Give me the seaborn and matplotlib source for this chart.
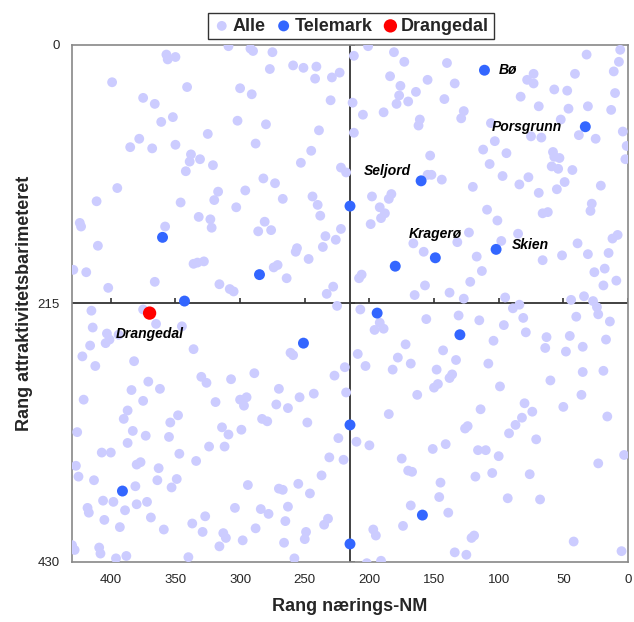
import matplotlib
matplotlib.use('Agg')
import matplotlib.pyplot as plt
import pandas as pd
import seaborn as sns

# rank (naerings-NM, attraktivitetsbarometer) for all municipalities, by quadrant
alle_nw = [
    (309, 1), (292, 3), (290, 5), (275, 6), (357, 8), (356, 12), (350, 10), (277, 20), (259, 17),
    (251, 19), (241, 18), (242, 28), (229, 27), (223, 23), (399, 31), (341, 35), (300, 36), (291, 41),
    (375, 44), (366, 49), (230, 46), (352, 60), (361, 64), (302, 63), (280, 66), (239, 71), (325, 74),
    (378, 78), (385, 85), (368, 86), (350, 83), (288, 82), (245, 88), (338, 91), (339, 97), (331, 95),
    (321, 100), (342, 105), (253, 98), (222, 102), (218, 106), (282, 111), (273, 115), (395, 119),
    (317, 122), (296, 121), (411, 130), (346, 131), (320, 129), (267, 128), (244, 126), (240, 133),
    (303, 135), (238, 142), (332, 143), (323, 145), (322, 152), (424, 148), (423, 151), (358, 151),
    (281, 147), (286, 155), (276, 154), (222, 153), (234, 159), (226, 162), (236, 168), (410, 167),
    (256, 169), (257, 172), (247, 178), (336, 182), (333, 181), (328, 180), (274, 185), (271, 183),
    (429, 187), (419, 189), (264, 194), (366, 197), (316, 199), (308, 203), (305, 205), (402, 202),
    (228, 201), (233, 207), (225, 217),
]
alle_ne = [
    (201, 1), (212, 9), (181, 6), (173, 14), (140, 15), (184, 26), (155, 29), (176, 34), (177, 42),
    (164, 39), (170, 47), (179, 49), (142, 45), (134, 32), (213, 48), (189, 56), (205, 58), (161, 62),
    (162, 67), (127, 55), (129, 61), (212, 73), (32, 8), (6, 4), (7, 14), (11, 22), (41, 24), (78, 29),
    (73, 24), (73, 32), (57, 37), (47, 38), (10, 40), (83, 43), (69, 51), (46, 53), (31, 51), (13, 54),
    (52, 62), (106, 65), (75, 76), (67, 77), (38, 75), (25, 78), (4, 72), (1, 84), (2, 95), (103, 80),
    (112, 87), (94, 90), (107, 99), (58, 89), (57, 93), (53, 94), (59, 101), (54, 103), (43, 104),
    (97, 109), (77, 110), (84, 116), (120, 118), (69, 123), (55, 120), (49, 114), (21, 117), (153, 92),
    (155, 108), (152, 108), (144, 112), (109, 137), (101, 146), (66, 140), (62, 139), (28, 132),
    (29, 138), (85, 157), (98, 163), (117, 176), (123, 156), (132, 164), (166, 165), (158, 172),
    (198, 126), (183, 124), (185, 128), (192, 135), (188, 140), (191, 144), (199, 149), (206, 191),
    (208, 194), (165, 208), (157, 200), (138, 206), (127, 211), (122, 197), (113, 188), (95, 210),
    (89, 219), (84, 216), (66, 179), (51, 175), (39, 165), (31, 174), (15, 173), (12, 161), (8, 158),
    (26, 189), (18, 186), (19, 200), (9, 196), (44, 212), (34, 209), (27, 213), (24, 218),
]
alle_sw = [
    (415, 221), (375, 220), (414, 235), (403, 240), (404, 248), (401, 245), (394, 241), (365, 232),
    (345, 234), (416, 250), (422, 259), (412, 267), (382, 263), (336, 253), (261, 256), (259, 258),
    (289, 273), (307, 278), (330, 276), (326, 281), (371, 280), (362, 286), (384, 287), (421, 295),
    (375, 296), (387, 304), (390, 311), (319, 297), (300, 295), (295, 293), (297, 300), (272, 299),
    (263, 302), (270, 286), (254, 293), (243, 290), (227, 275), (219, 268), (218, 289), (354, 314),
    (348, 308), (314, 318), (309, 324), (299, 320), (283, 311), (279, 313), (248, 314), (426, 322),
    (383, 321), (373, 325), (355, 326), (387, 331), (224, 327), (324, 334), (312, 334), (407, 339),
    (400, 339), (347, 340), (334, 346), (427, 350), (425, 359), (413, 362), (380, 349), (377, 347),
    (363, 352), (364, 362), (349, 361), (353, 368), (381, 367), (294, 366), (270, 369), (267, 370),
    (255, 365), (246, 373), (237, 358), (231, 343), (220, 345), (406, 379), (398, 380), (380, 382),
    (372, 380), (389, 387), (418, 385), (417, 389), (405, 395), (369, 393), (393, 401), (359, 403),
    (337, 398), (327, 392), (329, 405), (313, 406), (311, 410), (316, 417), (304, 385), (284, 386),
    (278, 390), (263, 384), (265, 396), (288, 402), (298, 412), (266, 414), (249, 405), (250, 411),
    (235, 399), (232, 394), (258, 427), (430, 416), (428, 420), (409, 418), (408, 423), (396, 427),
    (388, 425), (340, 426),
]
alle_se = [
    (207, 220), (156, 228), (131, 225), (115, 229), (81, 227), (40, 226), (23, 224), (14, 230),
    (192, 231), (196, 237), (189, 236), (96, 233), (79, 239), (63, 243), (45, 242), (104, 246),
    (64, 252), (48, 255), (35, 251), (17, 245), (172, 249), (143, 254), (133, 262), (108, 265),
    (209, 257), (203, 267), (178, 260), (168, 265), (182, 270), (148, 270), (35, 272), (19, 271),
    (60, 279), (136, 274), (138, 277), (147, 282), (150, 285), (99, 284), (163, 291), (36, 291),
    (50, 301), (80, 298), (74, 305), (82, 310), (87, 316), (92, 323), (114, 303), (185, 307),
    (124, 317), (126, 319), (71, 328), (16, 309), (210, 330), (200, 333), (151, 336), (141, 332),
    (116, 337), (110, 337), (100, 342), (175, 344), (170, 354), (167, 355), (118, 359), (105, 356),
    (76, 357), (23, 348), (3, 341), (145, 364), (146, 376), (93, 377), (68, 378), (168, 383),
    (139, 389), (174, 400), (197, 403), (195, 408), (121, 410), (119, 408), (42, 413), (134, 422),
    (125, 424), (5, 421), (202, 431), (191, 429),
]

telemark_names = ['Bø', 'Porsgrunn', 'Seljord', '', 'Kragerø', '', 'Skien', '', '', '', '',
                  '', '', '', '', '', '']
telemark_x = [111, 33, 160, 215, 149, 180, 102, 360, 285, 343, 251, 391, 194, 130, 215, 159, 215]
telemark_y = [21, 68, 113, 134, 177, 184, 170, 160, 191, 213, 248, 371, 223, 241, 316, 391, 415]

drangedal_x = [370]
drangedal_y = [223]

x_ticks = [400, 350, 300, 250, 200, 150, 100, 50, 0]
y_ticks = [0, 215, 430]
midt = 215

sns.set_style('white')
plt.rcParams['font.family'] = ['Liberation Sans', 'DejaVu Sans']

alle = pd.DataFrame(alle_nw + alle_ne + alle_sw + alle_se, columns=['x', 'y'])
tele = pd.DataFrame({'x': telemark_x, 'y': telemark_y, 'navn': telemark_names})
drang = pd.DataFrame({'x': drangedal_x, 'y': drangedal_y})

fig = plt.figure(figsize=(6.34, 6.22), dpi=100)
ax = fig.add_axes([0.1136, 0.0965, 0.8769, 0.8312])

# crosshair "axes" at the median rank
ax.axhline(midt, color='#333333', lw=1.3, zorder=1)
ax.axvline(midt, color='#333333', lw=1.3, zorder=1)
ax.vlines(x_ticks, midt, midt - 4.2, color='#333333', lw=1.2, zorder=1)
ax.hlines(y_ticks, midt, midt - 3.9, color='#333333', lw=1.2, zorder=1)

sns.scatterplot(data=alle, x='x', y='y', color='#CCCCFF', s=50, edgecolor='none',
                ax=ax, label='Alle', zorder=3)
sns.scatterplot(data=tele, x='x', y='y', color='#3366FF', s=62, edgecolor='none',
                ax=ax, label='Telemark', zorder=4)
sns.scatterplot(data=drang, x='x', y='y', color='#FF0000', s=92, edgecolor='none',
                ax=ax, label='Drangedal', zorder=5)

lab_style = dict(fontsize=10, fontweight='bold', fontstyle='italic', color='black',
                 textcoords='offset points', va='center', zorder=6)
offsets = {
    'Bø': ((10, 0), 'left'),
    'Porsgrunn': ((-17, 0), 'right'),
    'Seljord': ((-7, 7), 'right'),
    'Kragerø': ((0, 17), 'center'),
    'Skien': ((11, 3), 'left'),
}
for _, r in tele.iterrows():
    if r['navn']:
        off, ha = offsets[r['navn']]
        ax.annotate(r['navn'], (r['x'], r['y']), xytext=off, ha=ha, **lab_style)
ax.annotate('Drangedal', (drangedal_x[0], drangedal_y[0]), xytext=(0, -15), ha='center', **lab_style)

ax.set_xlim(430, 0)
ax.set_ylim(430, 0)
ax.set_xticks(x_ticks)
ax.set_yticks(y_ticks)
ax.tick_params(length=0, labelsize=9.5, pad=9)
for s in ax.spines.values():
    s.set_color('#888888')
    s.set_linewidth(1.2)

ax.set_xlabel('Rang nærings-NM', fontsize=13, fontweight='bold', labelpad=8)
ax.set_ylabel('Rang attraktivitetsbarimeteret', fontsize=13, fontweight='bold', labelpad=3)

handles, labels = ax.get_legend_handles_labels()
ax.get_legend().remove()
leg = fig.legend(handles, labels, loc='center', bbox_to_anchor=(0.5536, 0.958), ncol=3,
                 frameon=True, fancybox=False, edgecolor='black',
                 prop={'weight': 'bold', 'size': 13}, handletextpad=0.1,
                 columnspacing=0.5, borderpad=0.25, handlelength=1.0)
leg.get_frame().set_linewidth(1.0)

fig.savefig('out.png', dpi=100)
